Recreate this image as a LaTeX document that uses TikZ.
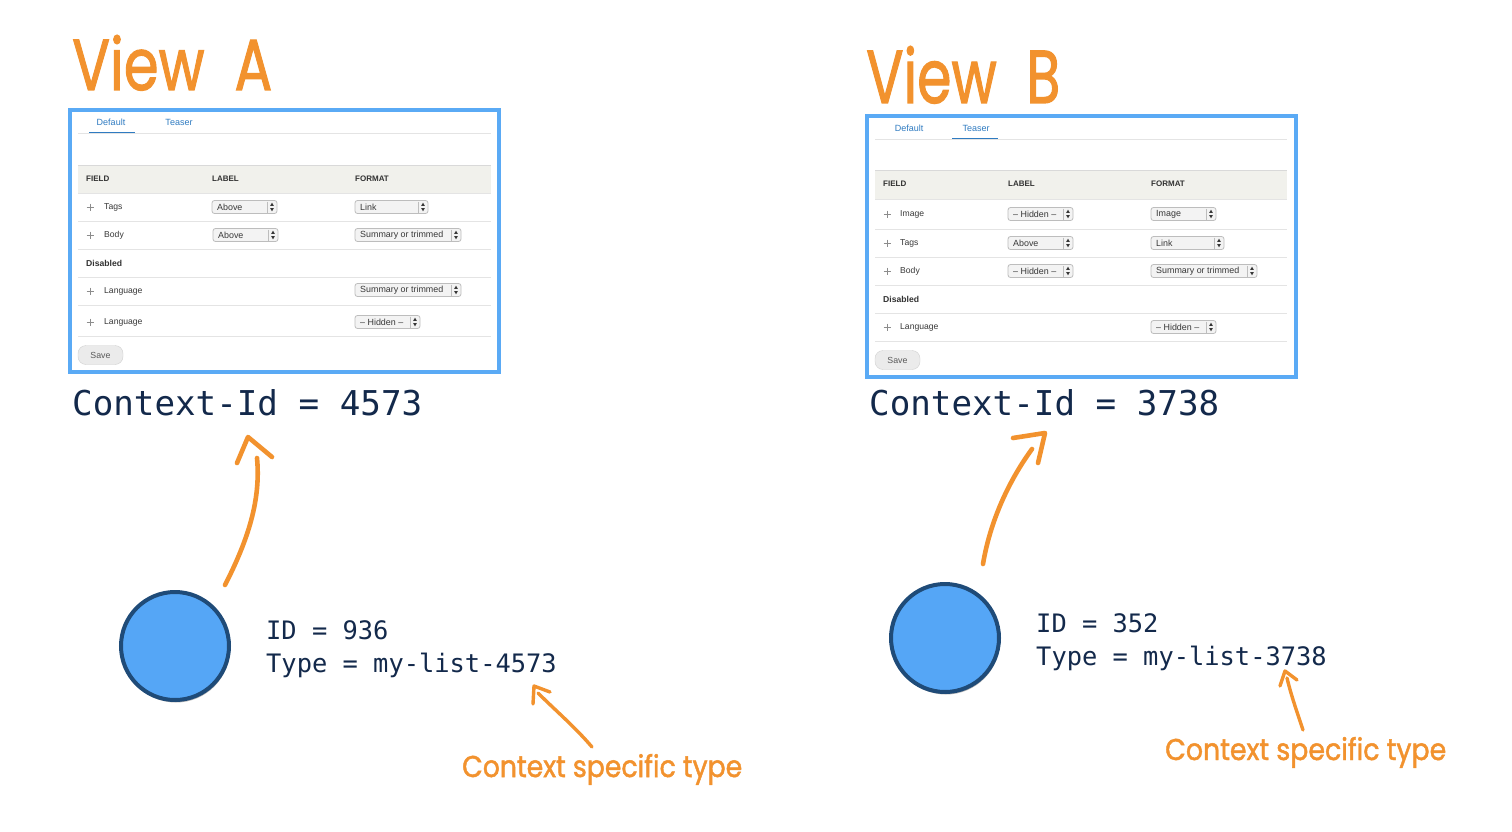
\documentclass[tikz,border=0pt]{standalone}
\usepackage{fontspec}
\usepackage{graphicx}
\setmainfont{Liberation Sans}
\newfontfamily\monof{DejaVu Sans Mono}
\newfontfamily\handf[FakeBold=1.6]{Poppins}
\usetikzlibrary{shadows}
\definecolor{orng}{HTML}{F2922E}
\definecolor{bord}{HTML}{5AAAF5}
\definecolor{cfill}{HTML}{55A6F6}
\definecolor{cline}{HTML}{1F4B78}
\definecolor{navy}{HTML}{13294B}
\definecolor{tabblue}{HTML}{2F7BC1}
\definecolor{uitext}{HTML}{383838}
\definecolor{hdrfill}{HTML}{F1F1EC}
\definecolor{sepc}{HTML}{E4E4E4}
\definecolor{selbd}{HTML}{BDBDBD}
\definecolor{selfl}{HTML}{F3F3F3}
\tikzset{
  ctx/.style={font=\monof\fontsize{34.2}{40}\selectfont, text=navy, anchor=base west, inner sep=0},
  info/.style={font=\monof\fontsize{25.4}{33}\selectfont, text=navy, anchor=base west, inner sep=0},
  handtxt/.style={text=orng, anchor=base west, inner sep=0},
  panel/.style={draw=bord, line width=4pt, fill=white, outer sep=0pt},
  ui/.style={font=\fontsize{8.6}{10}\selectfont, text=uitext, anchor=west, inner sep=0},
  uib/.style={font=\bfseries\fontsize{8}{10}\selectfont, text=uitext!90!black, anchor=west, inner sep=0},
  tabtxt/.style={font=\fontsize{9}{10}\selectfont, text=tabblue, anchor=center, inner sep=0},
  seltext/.style={font=\fontsize{8.9}{10}\selectfont, text=uitext, anchor=west, inner sep=0},
  selframe/.style={draw=selbd, fill=selfl, rounded corners=2.5pt, line width=0.8pt},
  seldiv/.style={draw=selbd, line width=0.6pt},
  sepline/.style={draw=sepc, line width=0.9pt},
  hdr/.style={fill=hdrfill},
  hdrline/.style={draw=black!15, line width=1pt},
  icon/.style={draw=black!45, line width=0.8pt},
  savebtn/.style={draw=black!18, fill=black!8, rounded corners=8pt, minimum width=45pt, minimum height=19pt, inner sep=0, font=\fontsize{8.8}{10}\selectfont, text=black!65},
  dot/.style={circle, draw=cline, fill=cfill, line width=4pt, minimum size=108pt, inner sep=0,
    drop shadow={shadow xshift=1pt, shadow yshift=-2.5pt, opacity=0.3, fill=black}},
  pen/.style={draw=orng, line width=4.6pt, line cap=round, line join=round},
  spen/.style={draw=orng, line width=3.4pt, line cap=round, line join=round},
}
\newcommand\selbox[5]{%
  \draw[selframe] ({#2},{#4-6.5}) rectangle ({#3},{#4+6.5});
  \draw[seldiv] ({#3-10},{#4-5.5}) -- ({#3-10},{#4+5.5});
  \fill[uitext] ({#3-5},{#4-4.3}) -- ({#3-6.8},{#4-1.2}) -- ({#3-3.2},{#4-1.2}) -- cycle;
  \fill[uitext] ({#3-5},{#4+4.3}) -- ({#3-6.8},{#4+1.2}) -- ({#3-3.2},{#4+1.2}) -- cycle;
  \node[seltext] (#1) at ({#2+5},{#4}) {#5};}
\newcommand\dragicon[2]{%
  \draw[icon] ({#1-3.5},{#2}) -- ({#1+3.5},{#2}) ({#1},{#2-3.5}) -- ({#1},{#2+3.5});}
\begin{document}
\begin{tikzpicture}[x=1pt,y=-1pt]
\useasboundingbox[fill=white] (0,0) rectangle (1512,832);

% ---------------- View A ----------------
\node[handtxt] (titleA) at (72,90) {\resizebox{200pt}{55pt}{\handf View\ \ A}};
\node[panel, anchor=north west, minimum width=429pt, minimum height=262pt, inner sep=0] (panelA) at (70,110) {};
\node[tabtxt] (tabA1) at (111,122) {Default};
\node[tabtxt] (tabA2) at (179,122) {Teaser};
\draw[sepline] (78,133.5) -- (491,133.5);
\draw[draw=tabblue, line width=1.6pt] (89,132.5) -- (135,132.5);
\fill[hdr] (78,165) rectangle (491,193);
\draw[hdrline] (78,165) -- (491,165);
\draw[sepline] (78,193) -- (491,193);
\node[uib] (hA1) at (86,179) {FIELD};
\node[uib] (hA2) at (212,179) {LABEL};
\node[uib] (hA3) at (355,179) {FORMAT};
% rows
\dragicon{90}{207}\node[ui] (rA1) at (104,207) {Tags};
\selbox{sA1l}{212}{277}{207}{Above}
\selbox{sA1f}{355}{428}{207}{Link}
\draw[sepline] (78,221) -- (491,221);
\dragicon{90}{235}\node[ui] (rA2) at (104,235) {Body};
\selbox{sA2l}{213}{278}{235}{Above}
\selbox{sA2f}{355}{461}{235}{Summary or trimmed}
\draw[sepline] (78,249) -- (491,249);
\node[uib, font=\bfseries\fontsize{8.6}{10}\selectfont] (dA) at (86,263) {Disabled};
\draw[sepline] (78,277) -- (491,277);
\dragicon{90}{291}\node[ui] (rA3) at (104,291) {Language};
\selbox{sA3f}{355}{461}{290}{Summary or trimmed}
\draw[sepline] (78,305) -- (491,305);
\dragicon{90}{322}\node[ui] (rA4) at (104,322) {Language};
\selbox{sA4f}{355}{420}{322}{– Hidden –}
\draw[sepline] (78,336) -- (491,336);
\node[savebtn] (saveA) at (100.5,355) {Save};

\node[ctx] (ctxA) at (72,415) {Context-Id = 4573};

\node[dot] (cA) at (175,646) {};
\node[info] (idA) at (266,639) {ID = 936};
\node[info] (tyA) at (266,672) {Type = my-list-4573};

\coordinate (aAs) at (225,585);
\coordinate (aAe) at (257,458);
\coordinate (aAt) at (248,437);
\draw[pen] (aAs) .. controls (248,540) and (261,500) .. (aAe);
\draw[pen] (237,463) -- (aAt) -- (272,457);

\node[handtxt] (noteA) at (462,777) {\resizebox{280pt}{23pt}{\handf Context specific type}};
\coordinate (sAs) at (592,747);
\coordinate (sAe) at (538,693);
\coordinate (sAt) at (534,686);
\draw[spen] (sAs) .. controls (575,727) and (555,710) .. (sAe);
\draw[spen] (533,704) -- (sAt) -- (550,692);

% ---------------- View B ----------------
\node[handtxt] (titleB) at (866,103) {\resizebox{194pt}{57pt}{\handf View\ \ B}};
\node[panel, anchor=north west, minimum width=429pt, minimum height=261pt, inner sep=0] (panelB) at (867,116) {};
\node[tabtxt] (tabB1) at (909,128) {Default};
\node[tabtxt] (tabB2) at (976,128) {Teaser};
\draw[sepline] (875,139.5) -- (1287,139.5);
\draw[draw=tabblue, line width=1.6pt] (952,138.5) -- (998,138.5);
\fill[hdr] (875,170) rectangle (1287,199);
\draw[hdrline] (875,170) -- (1287,170);
\draw[sepline] (875,199) -- (1287,199);
\node[uib] (hB1) at (883,184) {FIELD};
\node[uib] (hB2) at (1008,184) {LABEL};
\node[uib] (hB3) at (1151,184) {FORMAT};
\dragicon{887}{214}\node[ui] (rB1) at (900,214) {Image};
\selbox{sB1l}{1008}{1073}{214}{– Hidden –}
\selbox{sB1f}{1151}{1216}{214}{Image}
\draw[sepline] (875,229) -- (1287,229);
\dragicon{887}{243}\node[ui] (rB2) at (900,243) {Tags};
\selbox{sB2l}{1008}{1073}{243}{Above}
\selbox{sB2f}{1151}{1224}{243}{Link}
\draw[sepline] (875,257) -- (1287,257);
\dragicon{887}{271}\node[ui] (rB3) at (900,271) {Body};
\selbox{sB3l}{1008}{1073}{271}{– Hidden –}
\selbox{sB3f}{1151}{1257}{271}{Summary or trimmed}
\draw[sepline] (875,285) -- (1287,285);
\node[uib, font=\bfseries\fontsize{8.6}{10}\selectfont] (dB) at (883,299) {Disabled};
\draw[sepline] (875,313) -- (1287,313);
\dragicon{887}{327}\node[ui] (rB4) at (900,327) {Language};
\selbox{sB4f}{1151}{1216}{327}{– Hidden –}
\draw[sepline] (875,341) -- (1287,341);
\node[savebtn] (saveB) at (897.5,360) {Save};

\node[ctx] (ctxB) at (869,415) {Context-Id = 3738};

\node[dot] (cB) at (945,638) {};
\node[info] (idB) at (1036,632) {ID = 352};
\node[info] (tyB) at (1036,665) {Type = my-list-3738};

\coordinate (aBs) at (983,564);
\coordinate (aBe) at (1032,449);
\coordinate (aBt) at (1045,433);
\draw[pen] (aBs) .. controls (990,522) and (1008,482) .. (aBe);
\draw[pen] (1013,438) -- (aBt) -- (1038,463);

\node[handtxt] (noteB) at (1165,760) {\resizebox{281pt}{23pt}{\handf Context specific type}};
\coordinate (sBs) at (1303,730);
\coordinate (sBe) at (1287,678);
\coordinate (sBt) at (1285,671);
\draw[spen] (sBs) .. controls (1297,712) and (1291,695) .. (sBe);
\draw[spen] (1280,686) -- (sBt) -- (1297,680);
\end{tikzpicture}
\end{document}
